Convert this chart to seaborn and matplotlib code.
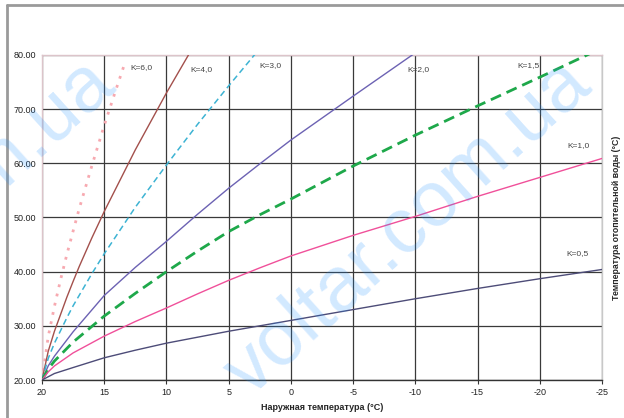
import numpy as np
import pandas as pd
import matplotlib
matplotlib.use('Agg')
import matplotlib.pyplot as plt
from matplotlib.lines import Line2D
import seaborn as sns

# наружная температура / температура отопительной воды для каждой кривой K
t_k60 = [20, 19.5, 19, 18.5, 18, 17.5, 17, 16, 15, 14, 13.3]
v_k60 = [20, 28.0, 33.6, 38.6, 43.2, 47.5, 51.7, 59.5, 67.0, 74.0, 78.8]

t_k40 = [20, 19.5, 19, 18, 17.5, 17, 16, 15, 12.5, 10, 7.5]
v_k40 = [20, 25.3, 29.0, 35.3, 38.2, 41.0, 46.2, 51.1, 62.5, 73.0, 82.9]

t_k30 = [20, 19.5, 19, 18, 17.5, 16, 15, 12.5, 10, 7.5, 5, 2.5]
v_k30 = [20, 24.0, 26.8, 31.5, 33.7, 39.6, 43.3, 51.9, 59.7, 67.2, 74.3, 81.2]

t_k20 = [20, 19.5, 19, 17.5, 15, 12.5, 10, 7.5, 5, 2.5, 0, -5, -10]
v_k20 = [20, 22.6, 24.4, 28.9, 35.6, 40.8, 45.6, 50.6, 55.4, 59.9, 64.3, 72.4, 80.4]

t_full = [20, 19.5, 19, 17.5, 15, 12.5, 10, 7.5, 5, 2.5, 0, -5, -10, -15, -20, -25]
v_k15 = [20, 22.0, 23.5, 27.0, 31.8, 36.0, 40.0, 43.8, 47.4, 50.5, 53.4, 59.5, 65.2, 70.6, 75.9, 81.3]
v_k10 = [20, 21.5, 22.6, 25.0, 28.1, 30.8, 33.3, 35.9, 38.4, 40.7, 42.9, 46.7, 50.2, 53.9, 57.4, 60.9]
v_k05 = [20, 20.6, 21.2, 22.3, 24.1, 25.5, 26.8, 27.9, 29.0, 30.0, 31.0, 33.0, 35.0, 36.9, 38.7, 40.4]

k_labels = ['K=6,0', 'K=4,0', 'K=3,0', 'K=2,0', 'K=1,5', 'K=1,0', 'K=0,5']
x_ticks = [20, 15, 10, 5, 0, -5, -10, -15, -20, -25]
y_ticks = [20, 30, 40, 50, 60, 70, 80]

curves = [
    (t_k60, v_k60, '#f7a9b0', 2.0, (0, (1, 2.4))),
    (t_k40, v_k40, '#a3504c', 1.0, '-'),
    (t_k30, v_k30, '#3db3d3', 1.1, (0, (4, 2.5))),
    (t_k20, v_k20, '#6c62b3', 1.0, '-'),
    (t_full, v_k15, '#1ea84a', 2.0, (0, (4, 2.2))),
    (t_full, v_k10, '#f0509a', 1.0, '-'),
    (t_full, v_k05, '#4d4c78', 1.0, '-'),
]
label_pos = [(12.9, 77.6), (8.1, 77.4), (2.55, 78.0), (-9.4, 77.4),
             (-18.2, 78.0), (-22.2, 63.3), (-22.1, 43.3)]

sns.set_style('white')
plt.rcParams['font.family'] = ['Liberation Sans', 'DejaVu Sans']

fig = plt.figure(figsize=(6.24, 4.18), dpi=100)
ax = fig.add_axes([42 / 624, 1 - 380 / 418, 560 / 624, 325 / 418])

# водяной знак
for cx in [408, -68]:
    fig.text(cx / 624, 1 - 228 / 418, 'voltar.com.ua', fontsize=56, rotation=42,
             color='#1e90ff', alpha=0.2, ha='center', va='center', zorder=10)

for (t, v, c, lw, ls), lab in zip(curves, k_labels):
    df = pd.DataFrame({'t': t, 'v': v})
    sns.lineplot(data=df, x='t', y='v', ax=ax, color=c, lw=lw, linestyle=ls,
                 sort=False, zorder=3)

for lab, (x, y) in zip(k_labels, label_pos):
    ax.text(x, y, lab, fontsize=6, color='#444444', ha='left', va='center')

ax.set_xlim(20, -25)
ax.set_ylim(20, 80)
ax.set_xticks(x_ticks)
ax.set_xticklabels([str(x) for x in x_ticks], fontsize=6.5, color='#222222')
ax.set_yticks(y_ticks)
ax.set_yticklabels(['%.2f' % y for y in y_ticks], fontsize=6.5, color='#222222')
ax.grid(True, color='#3a3a3a', lw=0.9)
ax.set_axisbelow(True)
ax.tick_params(axis='x', direction='out', length=3, width=0.8, color='#333333', pad=3, bottom=True)
ax.tick_params(axis='y', length=0, pad=4)

for s in ['left', 'top']:
    ax.spines[s].set_color('#dcc4ca')
ax.spines['right'].set_color('#c8c8c8')
ax.spines['bottom'].set_color('#333333')
for s in ax.spines.values():
    s.set_linewidth(1)

ax.set_xlabel('Наружная температура (°C)', fontsize=6.5, fontweight='bold', labelpad=4)
ax.yaxis.set_label_position('right')
ax.set_ylabel('Температура отопительной воды (°C)', fontsize=6.3, fontweight='bold',
              labelpad=7, rotation=90)

# рамка страницы
fig.add_artist(Line2D([7 / 624, 7 / 624], [0, 1 - 5 / 418], color='#9a9a9a', lw=2))
fig.add_artist(Line2D([7 / 624, 1], [1 - 5 / 418, 1 - 5 / 418], color='#9a9a9a', lw=2))

fig.savefig('out.png', dpi=100)
